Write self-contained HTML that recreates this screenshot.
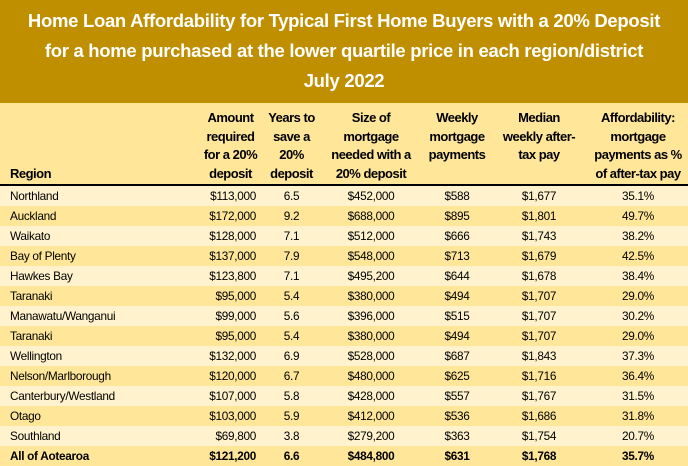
<!DOCTYPE html>
<html><head><meta charset="utf-8"><style>
body{margin:0;width:688px;height:466px;overflow:hidden;font-family:"Liberation Sans",sans-serif;}
#title{background:#BF8F00;color:#fff;font-weight:bold;height:103px;text-align:center;font-size:18.5px;line-height:30px;padding-top:6px;box-sizing:border-box;letter-spacing:-0.3px;white-space:nowrap}
table{border-collapse:collapse;width:688px;table-layout:fixed;font-size:11.8px;letter-spacing:-0.3px}
td,th{padding:0;height:20px;text-align:center;white-space:nowrap}
thead th{background:#FFE699;font-weight:bold;height:80px;vertical-align:bottom;line-height:18.5px;border-bottom:2px solid #000;padding-bottom:1px;font-size:13px;letter-spacing:-0.5px}
td:first-child,th:first-child{text-align:left;padding-left:10px}
tbody tr:nth-child(odd){background:#FFF2CC}
tbody tr:nth-child(even){background:#FFE699}
td.r{text-align:right;padding-right:9px}
tr.tot td{font-weight:bold}
</style></head><body>
<div id="title">Home Loan Affordability for Typical First Home Buyers with a 20% Deposit<br>for a home purchased at the lower quartile price in each region/district<br>July 2022</div>
<table>
<colgroup><col style="width:196px"><col style="width:69px"><col style="width:53px"><col style="width:106px"><col style="width:66px"><col style="width:98px"><col style="width:100px"></colgroup>
<thead><tr>
<th>Region</th><th>Amount<br>required<br>for a 20%<br>deposit</th><th>Years to<br>save a<br>20%<br>deposit</th><th>Size of<br>mortgage<br>needed with a<br>20% deposit</th><th>Weekly<br>mortgage<br>payments<br>&nbsp;</th><th>Median<br>weekly after-<br>tax pay<br>&nbsp;</th><th>Affordability:<br>mortgage<br>payments as %<br>of after-tax pay</th>
</tr></thead>
<tbody id="tb"></tbody></table>
<script>
const regions=["Northland","Auckland","Waikato","Bay of Plenty","Hawkes Bay","Taranaki","Manawatu/Wanganui","Taranaki","Wellington","Nelson/Marlborough","Canterbury/Westland","Otago","Southland","All of Aotearoa"];
const deposit=["$113,000","$172,000","$128,000","$137,000","$123,800","$95,000","$99,000","$95,000","$132,000","$120,000","$107,000","$103,000","$69,800","$121,200"];
const years=["6.5","9.2","7.1","7.9","7.1","5.4","5.6","5.4","6.9","6.7","5.8","5.9","3.8","6.6"];
const mortgage=["$452,000","$688,000","$512,000","$548,000","$495,200","$380,000","$396,000","$380,000","$528,000","$480,000","$428,000","$412,000","$279,200","$484,800"];
const weekly=["$588","$895","$666","$713","$644","$494","$515","$494","$687","$625","$557","$536","$363","$631"];
const pay=["$1,677","$1,801","$1,743","$1,679","$1,678","$1,707","$1,707","$1,707","$1,843","$1,716","$1,767","$1,686","$1,754","$1,768"];
const afford=["35.1%","49.7%","38.2%","42.5%","38.4%","29.0%","30.2%","29.0%","37.3%","36.4%","31.5%","31.8%","20.7%","35.7%"];
const tb=document.getElementById('tb');
regions.forEach((r,i)=>{
 const tr=document.createElement('tr');
 
 
 if(i===regions.length-1)tr.className='tot';
 [r,deposit[i],years[i],mortgage[i],weekly[i],pay[i],afford[i]].forEach((v,j)=>{
  const td=document.createElement('td');td.textContent=v;
  if(j===1)td.className='r';
  tr.appendChild(td);
 });
 tb.appendChild(tr);
});
</script>
</body></html>
